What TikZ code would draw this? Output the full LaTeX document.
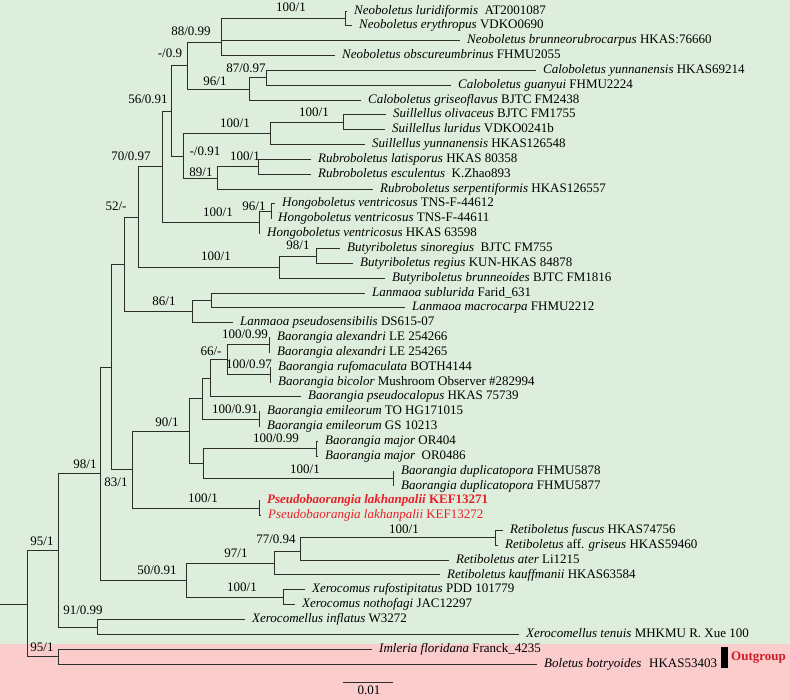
\documentclass[tikz,border=0pt]{standalone}
\usepackage{fontspec}
\setmainfont{Liberation Serif}
\definecolor{bggreen}{RGB}{221,238,220}
\definecolor{bgpink}{RGB}{250,204,204}
\definecolor{pred}{RGB}{232,32,40}
\definecolor{ored}{RGB}{205,30,40}
\definecolor{branchc}{RGB}{45,45,45}
\newcommand\treefont{\fontsize{13}{14}\selectfont}
\tikzset{
  br/.style={draw=branchc, line width=0.9pt},
  taxon/.style={anchor=west, inner xsep=7pt, inner ysep=0pt, font=\treefont, text height=8.8pt, text depth=2.6pt},
  bs/.style={inner sep=0pt, font=\treefont, text height=8.8pt, text depth=2.6pt}
}
\begin{document}
\begin{tikzpicture}[x=1pt,y=-1pt]
\useasboundingbox (0,0) rectangle (790,700);
\fill[bggreen] (0,0) rectangle (790,644);
\fill[bgpink] (0,644) rectangle (790,700);

% internal nodes
\coordinate (root0) at (0,604);
\coordinate (nRoot) at (27,604);
\coordinate (n95in) at (58,550.5);
\coordinate (n95out) at (58,656.5);
\coordinate (n98) at (100,473.5);
\coordinate (n91) at (97,627);
\coordinate (n111) at (111,367);
\coordinate (n50) at (186,580);
\coordinate (n124) at (124,264);
\coordinate (n83) at (132,469.5);
\coordinate (n52) at (138,217);
\coordinate (n86) at (192,311.5);
\coordinate (n70) at (162,166.5);
\coordinate (nButy) at (279,267);
\coordinate (nButyP) at (316,256);
\coordinate (n56) at (171,111);
\coordinate (nHongo) at (259,222.5);
\coordinate (nHongoP) at (271,211.3);
\coordinate (nm09) at (187,65.5);
\coordinate (nm091) at (183,156);
\coordinate (n88) at (221,42);
\coordinate (nNeoP) at (345,18.4);
\coordinate (n96c) at (249,89);
\coordinate (n87) at (266,77.8);
\coordinate (nSui) at (270,133.5);
\coordinate (nSuiP) at (343,122.3);
\coordinate (nRub) at (217,178);
\coordinate (nRubP) at (258,166.8);
\coordinate (nLanP) at (211,300.4);
\coordinate (n90) at (189,431.2);
\coordinate (nPseudo) at (259,508.1);
\coordinate (n202) at (202,398.7);
\coordinate (n203) at (203,463.6);
\coordinate (n66) at (210,378.3);
\coordinate (n227) at (227,359.8);
\coordinate (nAlex) at (269,344.9);
\coordinate (nRufo) at (270,374.6);
\coordinate (nEmil) at (259,419.1);
\coordinate (nMajor) at (316,448.8);
\coordinate (nDupli) at (393,478.4);
\coordinate (n97) at (274,563);
\coordinate (nXero) at (283,597.2);
\coordinate (n77) at (300,551);
\coordinate (nRetP) at (495,537.8);

% taxa
\node[taxon] (t1) at (347,11.0) {\textit{Neoboletus luridiformis}\ \ AT2001087};
\node[taxon] (t2) at (352,25.8) {\textit{Neoboletus erythropus} VDKO0690};
\node[taxon] (t3) at (460,40.7) {\textit{Neoboletus brunneorubrocarpus} HKAS:76660};
\node[taxon] (t4) at (335,55.5) {\textit{Neoboletus obscureumbrinus} FHMU2055};
\node[taxon] (t5) at (536,70.4) {\textit{Caloboletus yunnanensis} HKAS69214};
\node[taxon] (t6) at (451,85.2) {\textit{Caloboletus guanyui} FHMU2224};
\node[taxon] (t7) at (361,100.0) {\textit{Caloboletus griseoflavus} BJTC FM2438};
\node[taxon] (t8) at (386,114.9) {\textit{Suillellus olivaceus} BJTC FM1755};
\node[taxon] (t9) at (385,129.7) {\textit{Suillellus luridus} VDKO0241b};
\node[taxon] (t10) at (365,144.6) {\textit{Suillellus yunnanensis} HKAS126548};
\node[taxon] (t11) at (311,159.4) {\textit{Rubroboletus latisporus} HKAS 80358};
\node[taxon] (t12) at (311,174.2) {\textit{Rubroboletus esculentus}\ \ K.Zhao893};
\node[taxon] (t13) at (373,189.1) {\textit{Rubroboletus serpentiformis} HKAS126557};
\node[taxon] (t14) at (275,203.9) {\textit{Hongoboletus ventricosus} TNS-F-44612};
\node[taxon] (t15) at (271,218.8) {\textit{Hongoboletus ventricosus} TNS-F-44611};
\node[taxon] (t16) at (260,233.6) {\textit{Hongoboletus ventricosus} HKAS 63598};
\node[taxon] (t17) at (340,248.4) {\textit{Butyriboletus sinoregius}\ \ BJTC FM755};
\node[taxon] (t18) at (353,263.3) {\textit{Butyriboletus regius} KUN-HKAS 84878};
\node[taxon] (t19) at (385,278.1) {\textit{Butyriboletus brunneoides} BJTC FM1816};
\node[taxon] (t20) at (365,293.0) {\textit{Lanmaoa sublurida} Farid\_631};
\node[taxon] (t21) at (405,307.8) {\textit{Lanmaoa macrocarpa} FHMU2212};
\node[taxon] (t22) at (233,322.6) {\textit{Lanmaoa pseudosensibilis} DS615-07};
\node[taxon] (t23) at (270,337.5) {\textit{Baorangia alexandri} LE 254266};
\node[taxon] (t24) at (270,352.3) {\textit{Baorangia alexandri} LE 254265};
\node[taxon] (t25) at (271,367.2) {\textit{Baorangia rufomaculata} BOTH4144};
\node[taxon] (t26) at (271,382.0) {\textit{Baorangia bicolor} Mushroom Observer \#282994};
\node[taxon] (t27) at (301,396.8) {\textit{Baorangia pseudocalopus} HKAS 75739};
\node[taxon] (t28) at (260,411.7) {\textit{Baorangia emileorum} TO HG171015};
\node[taxon] (t29) at (260,426.5) {\textit{Baorangia emileorum} GS 10213};
\node[taxon] (t30) at (318,441.4) {\textit{Baorangia major} OR404};
\node[taxon] (t31) at (318,456.2) {\textit{Baorangia major}\ \ OR0486};
\node[taxon] (t32) at (394,471.0) {\textit{Baorangia duplicatopora} FHMU5878};
\node[taxon] (t33) at (394,485.9) {\textit{Baorangia duplicatopora} FHMU5877};
\node[taxon, text=pred] (t34) at (260,500.7) {\bfseries\textit{Pseudobaorangia lakhanpalii} KEF13271};
\node[taxon, text=pred] (t35) at (261,515.6) {\textit{Pseudobaorangia lakhanpalii} KEF13272};
\node[taxon] (t36) at (503,530.4) {\textit{Retiboletus fuscus} HKAS74756};
\node[taxon] (t37) at (498,545.2) {\textit{Retiboletus} aff. \textit{griseus} HKAS59460};
\node[taxon] (t38) at (449,560.1) {\textit{Retiboletus ater} Li1215};
\node[taxon] (t39) at (440,574.9) {\textit{Retiboletus kauffmanii} HKAS63584};
\node[taxon] (t40) at (305,589.8) {\textit{Xerocomus rufostipitatus} PDD 101779};
\node[taxon] (t41) at (295,604.6) {\textit{Xerocomus nothofagi} JAC12297};
\node[taxon] (t42) at (245,619.4) {\textit{Xerocomellus inflatus} W3272};
\node[taxon] (t43) at (519,634.3) {\textit{Xerocomellus tenuis} MHKMU R. Xue 100};
\node[taxon] (t44) at (372,649.1) {\textit{Imleria floridana} Franck\_4235};
\node[taxon] (t45) at (537,664.0) {\textit{Boletus botryoides}\hspace{0.6em}HKAS53403};

% branches
\draw[br] (root0) -- (nRoot);
\draw[br] (nRoot) |- (n95in) (nRoot) |- (n95out);
\draw[br] (n95in) |- (n98) (n95in) |- (n91);
\draw[br] (n95out) |- (t44.west) (n95out) |- (t45.west);
\draw[br] (n91) |- (t42.west) (n91) |- (t43.west);
\draw[br] (n98) |- (n111) (n98) |- (n50);
\draw[br] (n111) |- (n124) (n111) |- (n83);
\draw[br] (n124) |- (n52) (n124) |- (n86);
\draw[br] (n52) |- (n70) (n52) |- (nButy);
\draw[br] (n70) |- (n56) (n70) |- (nHongo);
\draw[br] (n56) |- (nm09) (n56) |- (nm091);
\draw[br] (nm09) |- (n88) (nm09) |- (n96c);
\draw[br] (n88) |- (nNeoP) (n88) |- (t3.west) (n88) |- (t4.west);
\draw[br] (nNeoP) |- (t1.west) (nNeoP) |- (t2.west);
\draw[br] (n96c) |- (n87) (n96c) |- (t7.west);
\draw[br] (n87) |- (t5.west) (n87) |- (t6.west);
\draw[br] (nm091) |- (nSui) (nm091) |- (nRub);
\draw[br] (nSui) |- (nSuiP) (nSui) |- (t10.west);
\draw[br] (nSuiP) |- (t8.west) (nSuiP) |- (t9.west);
\draw[br] (nRub) |- (nRubP) (nRub) |- (t13.west);
\draw[br] (nRubP) |- (t11.west) (nRubP) |- (t12.west);
\draw[br] (nHongo) |- (nHongoP) (nHongo) |- (t16.west);
\draw[br] (nHongoP) |- (t14.west) (nHongoP) |- (t15.west);
\draw[br] (nButy) |- (nButyP) (nButy) |- (t19.west);
\draw[br] (nButyP) |- (t17.west) (nButyP) |- (t18.west);
\draw[br] (n86) |- (nLanP) (n86) |- (t22.west);
\draw[br] (nLanP) |- (t20.west) (nLanP) |- (t21.west);
\draw[br] (n83) |- (n90) (n83) |- (nPseudo);
\draw[br] (nPseudo) |- (t34.west) (nPseudo) |- (t35.west);
\draw[br] (n90) |- (n202) (n90) |- (n203);
\draw[br] (n202) |- (n66) (n202) |- (nEmil);
\draw[br] (n66) |- (n227) (n66) |- (t27.west);
\draw[br] (n227) |- (nAlex) (n227) |- (nRufo);
\draw[br] (nAlex) |- (t23.west) (nAlex) |- (t24.west);
\draw[br] (nRufo) |- (t25.west) (nRufo) |- (t26.west);
\draw[br] (nEmil) |- (t28.west) (nEmil) |- (t29.west);
\draw[br] (n203) |- (nMajor) (n203) |- (nDupli);
\draw[br] (nMajor) |- (t30.west) (nMajor) |- (t31.west);
\draw[br] (nDupli) |- (t32.west) (nDupli) |- (t33.west);
\draw[br] (n50) |- (n97) (n50) |- (nXero);
\draw[br] (n97) |- (n77) (n97) |- (t39.west);
\draw[br] (n77) |- (nRetP) (n77) |- (t38.west);
\draw[br] (nRetP) |- (t36.west) (nRetP) |- (t37.west);
\draw[br] (nXero) |- (t40.west) (nXero) |- (t41.west);

% support labels
\node[bs] (l1) at (291,8) {100/1};
\node[bs] (l2) at (191,32) {88/0.99};
\node[bs] (l3) at (170,54) {-/0.9};
\node[bs] (l4) at (246,69) {87/0.97};
\node[bs] (l5) at (215,82) {96/1};
\node[bs] (l6) at (148,100) {56/0.91};
\node[bs] (l7) at (314,113) {100/1};
\node[bs] (l8) at (235,124) {100/1};
\node[bs] (l9) at (205,152) {-/0.91};
\node[bs] (l10) at (131,157) {70/0.97};
\node[bs] (l11) at (245,157) {100/1};
\node[bs] (l12) at (201,173) {89/1};
\node[bs] (l13) at (254,207) {96/1};
\node[bs] (l14) at (218,213) {100/1};
\node[bs] (l15) at (116,207) {52/-};
\node[bs] (l16) at (298,246) {98/1};
\node[bs] (l17) at (216,257) {100/1};
\node[bs] (l18) at (164,302) {86/1};
\node[bs] (l19) at (245,335) {100/0.99};
\node[bs] (l20) at (211,352) {66/-};
\node[bs] (l21) at (249,365) {100/0.97};
\node[bs] (l22) at (235,410) {100/0.91};
\node[bs] (l23) at (167,423) {90/1};
\node[bs] (l24) at (276,439) {100/0.99};
\node[bs] (l25) at (85,465) {98/1};
\node[bs] (l26) at (305,470) {100/1};
\node[bs] (l27) at (116,483) {83/1};
\node[bs] (l28) at (203,499) {100/1};
\node[bs] (l29) at (404,530) {100/1};
\node[bs] (l30) at (276,540) {77/0.94};
\node[bs] (l31) at (42,542) {95/1};
\node[bs] (l32) at (236,554) {97/1};
\node[bs] (l33) at (157,571) {50/0.91};
\node[bs] (l34) at (242,588) {100/1};
\node[bs] (l35) at (83,611) {91/0.99};
\node[bs] (l36) at (42,648) {95/1};

% outgroup marker
\fill[black] (721,647) rectangle (728,668);
\node[bs, text=ored, font=\treefont\bfseries] (og) at (758.5,657) {Outgroup};

% scale bar
\coordinate (sbL) at (343,682);
\coordinate (sbR) at (393,682);
\draw[br] (sbL) -- (sbR);
\node[bs] (sbt) at (369,691) {0.01};
\end{tikzpicture}
\end{document}
